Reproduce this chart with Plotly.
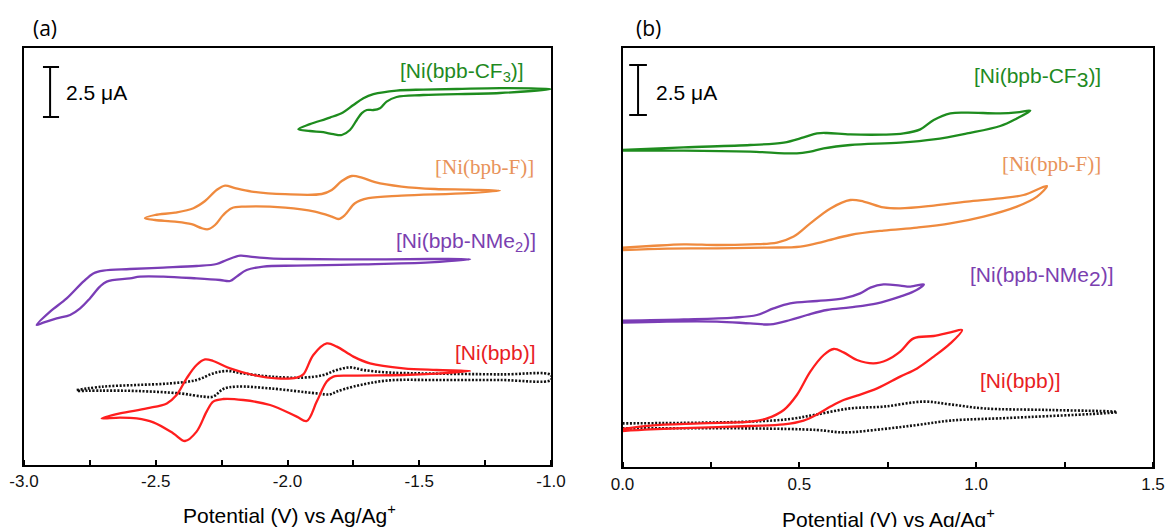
import plotly.graph_objects as go

# ---------------- data (potential in V, current in uA with vertical offsets) -------------
# Panel (a): reductions
A_CF3_V = [-1.959, -1.915, -1.839, -1.788, -1.750, -1.712, -1.674, -1.586, -1.485, -1.358, -1.194, -1.0,
           -1.194, -1.485, -1.586, -1.624, -1.649, -1.674, -1.699, -1.718, -1.737, -1.763, -1.794, -1.826,
           -1.864, -1.915, -1.959]
A_CF3_I = [16.79, 17.04, 17.37, 17.64, 18.0, 18.34, 18.54, 18.72, 18.77, 18.80, 18.84, 18.80,
           18.6, 18.5, 18.4, 18.17, 17.84, 17.75, 17.75, 17.59, 17.25, 16.75, 16.5, 16.54,
           16.64, 16.7, 16.79]

A_F_V = [-1.194, -1.314, -1.567, -1.693, -1.744, -1.782, -1.807, -1.832, -1.896, -2.009, -2.161, -2.212,
         -2.244, -2.275, -2.301, -2.326, -2.364, -2.427, -2.503, -2.541, -2.503, -2.427, -2.357, -2.313,
         -2.269, -2.237, -2.199, -2.136, -2.009, -1.870, -1.832, -1.794, -1.756, -1.718, -1.668, -1.567,
         -1.440, -1.314, -1.194]
A_F_I = [13.72, 13.59, 13.47, 13.34, 13.09, 12.5, 12.30, 12.42, 12.67, 12.87, 12.92, 12.84,
         12.5, 12.0, 11.79, 11.84, 12.04, 12.17, 12.25, 12.34, 12.5, 12.62, 12.84, 13.2,
         13.75, 13.97, 13.84, 13.67, 13.54, 13.55, 13.75, 14.2, 14.45, 14.37, 14.14, 13.92,
         13.8, 13.77, 13.72]

A_NME2_V = [-2.952, -2.901, -2.838, -2.775, -2.737, -2.699, -2.598, -2.471, -2.345, -2.269, -2.231, -2.180,
            -2.142, -2.066, -1.965, -1.712, -1.459, -1.307, -1.459, -1.712, -1.965, -2.092, -2.155, -2.193,
            -2.218, -2.256, -2.345, -2.471, -2.560, -2.598, -2.686, -2.712, -2.750, -2.787, -2.825, -2.876,
            -2.927, -2.952]
A_NME2_I = [7.0, 7.67, 8.33, 9.17, 9.58, 9.72, 9.8, 9.87, 9.95, 10.05, 10.25, 10.47,
            10.42, 10.33, 10.3, 10.28, 10.3, 10.28, 10.13, 10.03, 9.97, 9.92, 9.75, 9.42,
            9.2, 9.25, 9.33, 9.42, 9.42, 9.33, 9.17, 8.92, 8.33, 7.83, 7.5, 7.33,
            7.12, 7.0]

A_BPB_V = [-2.705, -2.636, -2.534, -2.458, -2.421, -2.383, -2.345, -2.313, -2.282, -2.218, -2.130, -2.041,
           -1.965, -1.940, -1.902, -1.851, -1.813, -1.750, -1.687, -1.560, -1.434, -1.307, -1.434, -1.560,
           -1.750, -1.826, -1.851, -1.889, -1.927, -1.965, -2.066, -2.168, -2.244, -2.282, -2.307, -2.345,
           -2.389, -2.433, -2.509, -2.572, -2.636, -2.705]
A_BPB_I = [2.33, 2.58, 2.83, 3.08, 3.5, 4.33, 5.0, 5.28, 5.2, 4.83, 4.5, 4.33,
           4.37, 4.53, 5.5, 6.08, 5.92, 5.42, 5.08, 4.83, 4.75, 4.70, 4.57, 4.5,
           4.47, 4.42, 4.17, 3.17, 2.2, 2.42, 3.0, 3.25, 3.3, 3.17, 2.67, 1.67,
           1.2, 1.58, 2.13, 2.33, 2.37, 2.33]

A_BLANK_V = [-2.8, -2.699, -2.572, -2.446, -2.345, -2.282, -2.231, -2.168, -2.066, -1.940, -1.864, -1.813,
             -1.763, -1.712, -1.624, -1.497, -1.194, -1.0, -1.0, -1.194, -1.434, -1.624, -1.750, -1.813,
             -1.839, -1.889, -2.066, -2.193, -2.244, -2.282, -2.320, -2.408, -2.572, -2.699, -2.8]
A_BLANK_I = [3.75, 3.92, 4.0, 4.08, 4.25, 4.58, 4.7, 4.58, 4.42, 4.37, 4.5, 4.75,
             4.88, 4.75, 4.63, 4.58, 4.53, 4.5, 4.25, 4.25, 4.25, 4.22, 3.92, 3.67,
             3.53, 3.58, 3.83, 3.92, 3.8, 3.42, 3.42, 3.58, 3.7, 3.72, 3.7]

# Panel (b): oxidations
B_CF3_V = [0.0, 0.173, 0.361, 0.456, 0.512, 0.550, 0.578, 0.644, 0.738, 0.795, 0.842, 0.880, 0.927, 0.974,
           1.068, 1.115, 1.153, 1.115, 1.068, 0.974, 0.880, 0.785, 0.644, 0.569, 0.531, 0.493, 0.361, 0.173, 0.0]
B_CF3_I = [15.85, 15.98, 16.1, 16.22, 16.48, 16.68, 16.7, 16.63, 16.62, 16.68, 16.88, 17.35, 17.68, 17.72,
           17.68, 17.73, 17.82, 17.43, 17.05, 16.68, 16.38, 16.22, 16.1, 15.93, 15.77, 15.68, 15.77, 15.82, 15.82]

B_F_V = [0.0, 0.079, 0.173, 0.267, 0.361, 0.437, 0.484, 0.531, 0.588, 0.644, 0.682, 0.738, 0.785, 0.880,
         0.974, 1.068, 1.134, 1.200, 1.172, 1.115, 1.021, 0.927, 0.833, 0.738, 0.644, 0.569, 0.503, 0.409,
         0.267, 0.126, 0.0]
B_F_I = [10.97, 11.05, 11.13, 11.1, 11.13, 11.22, 11.52, 12.18, 12.93, 13.35, 13.27, 12.98, 12.93, 13.07,
         13.27, 13.43, 13.6, 14.05, 13.52, 13.02, 12.52, 12.18, 11.97, 11.82, 11.6, 11.27, 11.02, 10.97,
         10.93, 10.92, 10.85]

B_NME2_V = [0.0, 0.173, 0.314, 0.380, 0.427, 0.474, 0.550, 0.625, 0.672, 0.701, 0.738, 0.785, 0.814, 0.852,
            0.823, 0.785, 0.720, 0.644, 0.578, 0.522, 0.474, 0.418, 0.361, 0.267, 0.126, 0.0]
B_NME2_I = [7.32, 7.38, 7.47, 7.6, 7.93, 8.18, 8.3, 8.43, 8.68, 8.97, 9.13, 9.07, 9.02, 9.13,
            8.77, 8.52, 8.18, 7.98, 7.85, 7.6, 7.35, 7.13, 7.18, 7.27, 7.27, 7.22]

B_BPB_V = [0.0, 0.079, 0.220, 0.361, 0.409, 0.456, 0.493, 0.531, 0.569, 0.597, 0.625, 0.663, 0.710, 0.748,
           0.785, 0.823, 0.880, 0.927, 0.960, 0.927, 0.880, 0.833, 0.785, 0.720, 0.663, 0.625, 0.588, 0.550,
           0.512, 0.456, 0.361, 0.220, 0.079, 0.0]
B_BPB_I = [1.9, 2.07, 2.18, 2.27, 2.43, 2.85, 3.6, 4.77, 5.6, 5.9, 5.73, 5.35, 5.18, 5.35,
           5.77, 6.43, 6.55, 6.73, 6.85, 6.18, 5.52, 4.93, 4.52, 3.93, 3.57, 3.35, 3.02, 2.63,
           2.32, 2.13, 2.05, 1.97, 1.88, 1.8]

B_BLANK_V = [0.0, 0.361, 0.474, 0.550, 0.644, 0.738, 0.852, 0.927, 1.021, 1.210, 1.398, 1.115, 0.927, 0.833,
             0.738, 0.625, 0.550, 0.361, 0.0]
B_BLANK_I = [2.18, 2.27, 2.4, 2.63, 2.93, 3.02, 3.27, 3.13, 2.93, 2.85, 2.75, 2.47, 2.32, 2.1,
             1.9, 1.73, 1.85, 1.93, 1.93]

A_TICKS = [-3.0, -2.5, -2.0, -1.5, -1.0]
A_TICK_TEXT = ["-3.0", "-2.5", "-2.0", "-1.5", "-1.0"]
B_TICKS = [0.0, 0.5, 1.0, 1.5]
B_TICK_TEXT = ["0.0", "0.5", "1.0", "1.5"]
SCALE_BAR_UA = 2.5

# ---------------- styles -------------
GREEN, ORANGE, PURPLE, RED = "#1e8c1e", "#ef8a3e", "#7a3db6", "#ff1e1e"
T_GREEN, T_ORANGE, T_PURPLE, T_RED = "#1f8a1f", "#e8935a", "#7b3fb0", "#e8201f"
SANS = "Liberation Sans, Arial, sans-serif"
SERIF = "Liberation Serif, Times New Roman, serif"

W, H = 1166, 527
A_L, A_R, B_L, B_R = 24, 551, 622.5, 1153
TOP, A_BOT, B_BOT = 48.3, 465, 467
PX_PER_UA = 20.0

fig = go.Figure()


def add_cv(xs, ys, color, xa, ya, dash="solid", width=2.3):
    fig.add_trace(go.Scatter(
        x=xs, y=ys, mode="lines", xaxis=xa, yaxis=ya, showlegend=False, hoverinfo="skip",
        line=dict(color=color, width=width, dash=dash, shape="spline", smoothing=1.0)))


DOTS = "2px,1.6px"
add_cv(A_BLANK_V, A_BLANK_I, "#111111", "x", "y", dash=DOTS, width=2.6)
add_cv(A_CF3_V, A_CF3_I, GREEN, "x", "y")
add_cv(A_F_V, A_F_I, ORANGE, "x", "y")
add_cv(A_NME2_V, A_NME2_I, PURPLE, "x", "y")
add_cv(A_BPB_V, A_BPB_I, RED, "x", "y")

add_cv(B_BLANK_V, B_BLANK_I, "#111111", "x2", "y2", dash=DOTS, width=2.6)
add_cv(B_CF3_V, B_CF3_I, GREEN, "x2", "y2")
add_cv(B_F_V, B_F_I, ORANGE, "x2", "y2")
add_cv(B_NME2_V, B_NME2_I, PURPLE, "x2", "y2")
add_cv(B_BPB_V, B_BPB_I, RED, "x2", "y2")


def xaxis(domain, rng, tickvals, ticktext, standoff, anchor):
    return dict(domain=domain, range=rng, anchor=anchor, automargin=False,
                showgrid=False, zeroline=False,
                showline=True, mirror=True, linecolor="black", linewidth=2,
                tickmode="array", tickvals=tickvals, ticktext=ticktext, ticks="",
                ticklabelstandoff=standoff,
                tickfont=dict(family=SANS, size=17, color="#111111"),
                minor=dict(dtick=0.25, tick0=0, ticks="inside", ticklen=5, tickwidth=1.6,
                           tickcolor="black", showgrid=False))


def yaxis(domain, rng, anchor):
    return dict(domain=domain, range=rng, anchor=anchor, automargin=False,
                showgrid=False, zeroline=False,
                showline=True, mirror=True, linecolor="black", linewidth=2,
                showticklabels=False, ticks="")


fig.update_layout(
    width=W, height=H, margin=dict(l=0, r=0, t=0, b=0, autoexpand=False),
    paper_bgcolor="white", plot_bgcolor="white",
    xaxis=xaxis([A_L / W, A_R / W], [-3.0, -1.0], A_TICKS, A_TICK_TEXT, 0, "y"),
    yaxis=yaxis([1 - A_BOT / H, 1 - TOP / H], [0, (A_BOT - TOP) / PX_PER_UA], "x"),
    xaxis2=xaxis([B_L / W, B_R / W], [0.0, 1.5], B_TICKS, B_TICK_TEXT, 1, "y2"),
    yaxis2=yaxis([1 - B_BOT / H, 1 - TOP / H], [0, (B_BOT - TOP) / PX_PER_UA], "x2"),
)

# scale bars (2.5 uA)
for xr, yr, xc, x0, x1, ytop in [("x", "y", -2.901, -2.928, -2.867, 19.9),
                                  ("x2", "y2", 0.044, 0.019, 0.069, 20.1)]:
    yb = ytop - SCALE_BAR_UA
    line = dict(color="black", width=2)
    fig.add_shape(type="line", xref=xr, yref=yr, x0=xc, x1=xc, y0=yb, y1=ytop, line=line)
    fig.add_shape(type="line", xref=xr, yref=yr, x0=x0, x1=x1, y0=ytop, y1=ytop, line=line)
    fig.add_shape(type="line", xref=xr, yref=yr, x0=x0, x1=x1, y0=yb, y1=yb, line=line)


def label(text, x, y, xr, yr, color, family=SANS, size=21, xanchor="center"):
    fig.add_annotation(text=text, x=x, y=y, xref=xr, yref=yr, showarrow=False,
                       xanchor=xanchor, yanchor="middle",
                       font=dict(family=family, size=size, color=color))


label("2.5 μA", -2.848, 18.65, "x", "y", "black", xanchor="left")
label("[Ni(bpb-CF<sub>3</sub>)]", -1.338, 19.65, "x", "y", T_GREEN)
label("[Ni(bpb-F)]", -1.254, 14.9, "x", "y", T_ORANGE, family=SERIF)
label("[Ni(bpb-NMe<sub>2</sub>)]", -1.321, 11.15, "x", "y", T_PURPLE)
label("[Ni(bpb)]", -1.211, 5.65, "x", "y", T_RED)

label("2.5 μA", 0.089, 18.75, "x2", "y2", "black", xanchor="left")
label("[Ni(bpb-CF<sub><span style='font-size:21px'>3</span></sub>)]", 1.173, 19.5, "x2", "y2", T_GREEN)
label("[Ni(bpb-F)]", 1.213, 15.15, "x2", "y2", T_ORANGE, family=SERIF)
label("[Ni(bpb-NMe<sub><span style='font-size:21px'>2</span></sub>)]", 1.186, 9.55, "x2", "y2", T_PURPLE)
label("[Ni(bpb)]", 1.125, 4.35, "x2", "y2", T_RED)

# panel letters and axis titles
label("(a)", 45 / W, 1 - 28 / H, "paper", "paper", "black", family="Open Sans, sans-serif", size=21)
label("(b)", 648 / W, 1 - 28 / H, "paper", "paper", "black", family="Open Sans, sans-serif", size=21)
label("Potential (V) vs Ag/Ag<sup>+</sup>", 289 / W, 1 - 514 / H, "paper", "paper", "black", size=21)
label("Potential (V) vs Ag/Ag<sup>+</sup>", 888 / W, 1 - 518 / H, "paper", "paper", "black", size=21)

fig.write_html("out.html")
